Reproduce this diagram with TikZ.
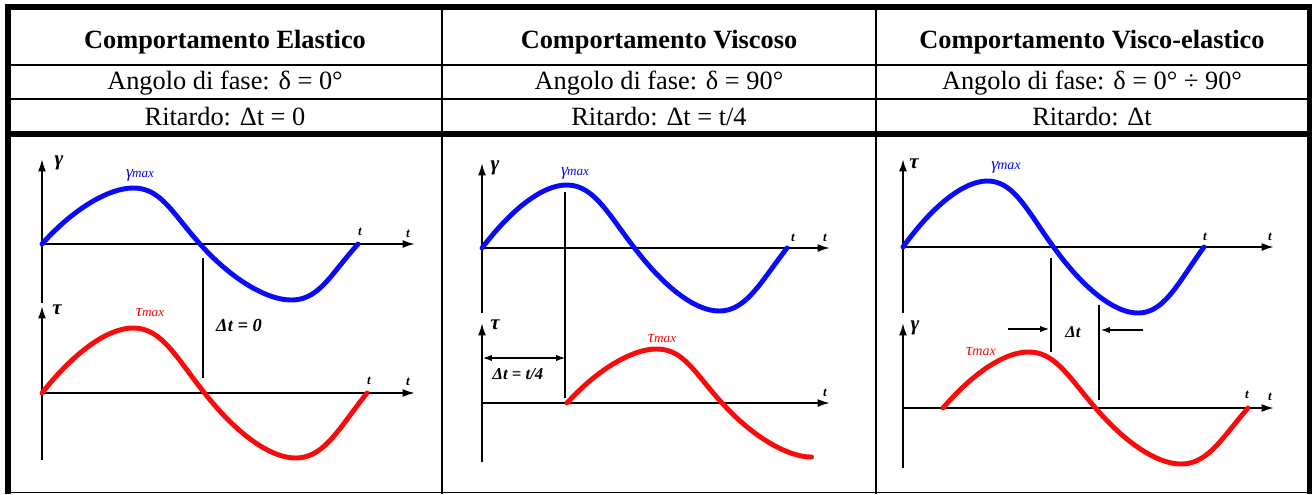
\documentclass[tikz,border=0pt]{standalone}
\usepackage{fontspec}
\setmainfont{Liberation Serif}
\usepackage{xcolor}
\definecolor{curveblue}{RGB}{10,10,250}
\definecolor{curvered}{RGB}{250,10,10}
\usepackage{tikz}
\usetikzlibrary{arrows.meta}

% x0, y0, period, amplitude, skew, last angle
\newcommand{\sinwave}[6]{%
  plot[domain=0:#6, samples=90, smooth]
  ({#1+(#3/360)*(\x+#5*(1-cos(2*\x))/2)}, {#2-#4*sin(\x)})}

\begin{document}
\begin{tikzpicture}[x=0.02cm, y=-0.02cm,
  frame/.style={line width=3.4pt},
  rule/.style={line width=0.8pt},
  head/.style={font=\fontsize{15}{18}\selectfont\bfseries},
  cell/.style={font=\fontsize{15}{18}\selectfont},
  axis/.style={line width=1.1pt, -{Latex[length=7pt,width=4.5pt]}},
  wave/.style={line width=2.8pt, line cap=round},
  delayline/.style={line width=1pt},
  delayarrow/.style={line width=0.6pt, -{Latex[length=5pt,width=3.5pt]}},
  axlabel/.style={font=\fontsize{12}{12}\selectfont\bfseries\itshape},
  tlabel/.style={font=\fontsize{7.5}{7.5}\selectfont\bfseries\itshape},
  maxlabel/.style={font=\fontsize{10}{10}\selectfont\itshape},
  dtlabel/.style={font=\fontsize{10.5}{10.5}\selectfont\bfseries\itshape}]
  \useasboundingbox (0,0) rectangle (1312,494);

  % Table frame
  \draw[rule] (5,492.5) -- (1309,492.5);
  \draw[frame] (8,494) -- (8,7) -- (1309.5,7) -- (1309.5,494);
  \draw[rule] (8,65) -- (1309,65);
  \draw[rule] (8,99) -- (1309,99);
  \draw[frame] (8,134) -- (1309,134);
  \draw[rule] (442,7) -- (442,494);
  \draw[rule] (876,7) -- (876,494);

  % Header rows
  \node[head] (h1) at (225,42) {Comportamento Elastico};
  \node[head] (h2) at (659,42) {Comportamento Viscoso};
  \node[head] (h3) at (1092,42) {Comportamento Visco-elastico};
  \node[cell] (f1) at (225,83) {Angolo di fase: δ = 0°};
  \node[cell] (f2) at (659,83) {Angolo di fase: δ = 90°};
  \node[cell] (f3) at (1092,83) {Angolo di fase: δ = 0° ÷ 90°};
  \node[cell] (r1) at (225,117) {Ritardo: Δt = 0};
  \node[cell] (r2) at (659,117) {Ritardo: Δt = t/4};
  \node[cell] (r3) at (1092,117) {Ritardo: Δt};

  % Elastic
  \draw[axis] (42,303) -- (42,159);
  \draw[axis] (42,460) -- (42,306);
  \draw[axis] (42,244) -- (415,244);
  \draw[axis] (42,393) -- (415,393);
  \node[axlabel] (g1) at (59,163) {γ};
  \node[axlabel] (t1) at (57,310) {τ};
  \node[tlabel] at (360,232) {t};
  \node[tlabel] at (408,234) {t};
  \node[tlabel] at (369,381) {t};
  \node[tlabel] at (408,382) {t};
  \draw[wave, curveblue] \sinwave{42}{244}{316}{56}{14}{360};
  \draw[wave, curvered] \sinwave{42}{393}{325}{65}{11}{360};
  \node[maxlabel, curveblue] (gm1) at (140,175) {γ\kern-0.5pt{\fontsize{7.5}{7.5}\selectfont max}};
  \node[maxlabel, curvered] (tm1) at (150,313) {τ{\fontsize{7.5}{7.5}\selectfont max}};
  \coordinate (d1a) at (203,258);
  \coordinate (d1b) at (203,378);
  \draw[delayline] (d1a) -- (d1b);
  \node[dtlabel, anchor=west] (dt1) at (210,325) {Δt = 0};

  % Viscous
  \draw[axis] (482,313) -- (482,163);
  \draw[axis] (482,462) -- (482,323);
  \draw[axis] (482,248) -- (830,248);
  \draw[axis] (482,403) -- (830,403);
  \node[axlabel] (g2) at (495,168) {γ};
  \node[axlabel] (t2) at (495,325) {τ};
  \node[tlabel] at (793,238) {t};
  \node[tlabel] at (825,238) {t};
  \node[tlabel] at (825,393) {t};
  \draw[wave, curveblue] \sinwave{482}{248}{305}{63}{10}{360};
  \draw[wave, curvered] \sinwave{567}{403}{310}{54}{14}{270};
  \node[maxlabel, curveblue] (gm2) at (575,173) {γ\kern-0.5pt{\fontsize{7.5}{7.5}\selectfont max}};
  \node[maxlabel, curvered] (tm2) at (662,339) {τ{\fontsize{7.5}{7.5}\selectfont max}};
  \coordinate (d2a) at (565,192);
  \coordinate (d2b) at (565,398);
  \draw[delayline] (d2a) -- (d2b);
  \coordinate (e2a) at (483,358);
  \coordinate (e2b) at (565,358);
  \draw[delayarrow, {Latex[length=5pt,width=3.5pt]}-{Latex[length=5pt,width=3.5pt]}] (e2a) -- (e2b);
  \node[dtlabel, font=\fontsize{9.5}{9.5}\selectfont\bfseries\itshape] (dt2) at (518,374) {Δt = t/4};

  % Visco-elastic
  \draw[axis] (903,313) -- (903,159);
  \draw[axis] (903,468) -- (903,323);
  \draw[axis] (903,247) -- (1274,247);
  \draw[axis] (903,408) -- (1274,408);
  \node[axlabel] (t3) at (914,164) {τ};
  \node[axlabel] (g3) at (915,328) {γ};
  \node[tlabel] at (1205,237) {t};
  \node[tlabel] at (1270,237) {t};
  \node[tlabel] at (1247,395) {t};
  \node[tlabel] at (1270,397) {t};
  \draw[wave, curveblue] \sinwave{903}{247}{301}{66}{11}{360};
  \draw[wave, curvered] \sinwave{943}{408}{305}{56}{11}{360};
  \node[maxlabel, curveblue] (gm3) at (1006,167) {γ\kern-0.5pt{\fontsize{8}{8}\selectfont max}};
  \node[maxlabel, curvered] (tm3) at (981,352) {τ{\fontsize{8}{8}\selectfont max}};
  \coordinate (d3a) at (1051,258);
  \coordinate (d3b) at (1051,352);
  \coordinate (d3c) at (1099,305);
  \coordinate (d3d) at (1099,400);
  \draw[delayline] (d3a) -- (d3b);
  \draw[delayline] (d3c) -- (d3d);
  \coordinate (e3a) at (1008,329);
  \coordinate (e3b) at (1143,330);
  \draw[delayarrow] (e3a) -- (1049,329);
  \draw[delayarrow] (e3b) -- (1101,330);
  \node[dtlabel, font=\fontsize{9.5}{9.5}\selectfont\bfseries\itshape] (dt3) at (1073,332) {Δt};
\end{tikzpicture}
\end{document}
